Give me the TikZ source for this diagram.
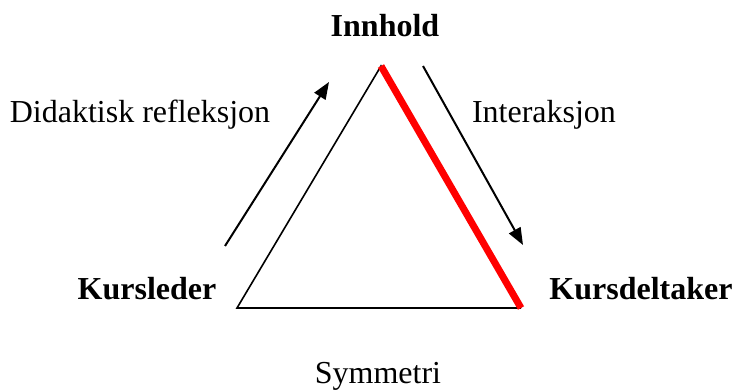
\documentclass[tikz,border=0pt]{standalone}
\usepackage{fontspec}
\setmainfont{Liberation Serif}
\usetikzlibrary{arrows.meta}
\definecolor{trired}{HTML}{FF0000}
\definecolor{triink}{HTML}{000000}
\tikzset{
  tri label/.style={font=\fontsize{16}{19}\selectfont\bfseries, text=triink, anchor=base, inner sep=0pt},
  tri note/.style={font=\fontsize{16}{19}\selectfont, text=triink, anchor=base, inner sep=0pt},
  tri edge/.style={draw=triink, line width=0.8pt},
  tri hot edge/.style={draw=trired, line width=3.5pt, line cap=butt},
  tri arrow/.style={-{Triangle[length=8.5pt,width=6.5pt]}, line width=1pt, draw=triink}
}

\begin{document}
\begin{tikzpicture}[x=0.5pt, y=-0.5pt]
  \useasboundingbox (0,0) rectangle (733,390);
  \coordinate (top) at (381,66);
  \coordinate (left) at (237,308);
  \coordinate (right) at (521,308);
  \coordinate (refl tail) at (225,246);
  \coordinate (refl tip) at (329,82);
  \coordinate (inter tail) at (423,66);
  \coordinate (inter tip) at (523,245);
  \draw[tri edge] (right) -- (left) -- (top) -- (right);
  \draw[tri hot edge] (top) -- (right);
  \draw[tri arrow] (refl tail) -- (refl tip);
  \draw[tri arrow] (inter tail) -- (inter tip);
  \node[tri label] (innhold) at (385,37) {Innhold};
  \node[tri label] (kursleder) at (147,299) {Kursleder};
  \node[tri label] (deltaker) at (641,299) {Kursdeltaker};
  \node[tri note] (didaktisk) at (140,122) {Didaktisk refleksjon};
  \node[tri note] (interaksjon) at (544,122) {Interaksjon};
  \node[tri note] (symmetri) at (378,383) {Symmetri};
\end{tikzpicture}
\end{document}
